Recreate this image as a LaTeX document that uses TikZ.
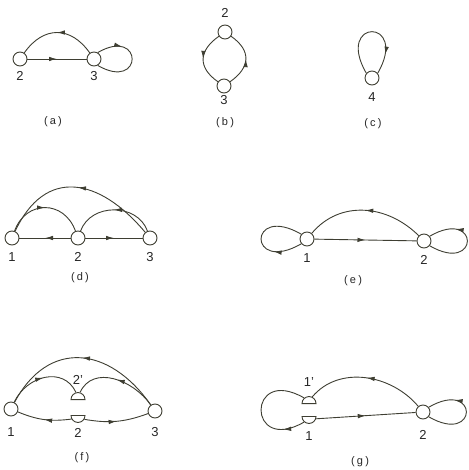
\documentclass[tikz,border=0pt]{standalone}
\usepackage{fontspec}
\setmainfont{Liberation Sans}
\newfontfamily\capfont[LetterSpace=20]{Liberation Sans}
\usetikzlibrary{positioning,shapes.geometric,decorations.markings,arrows.meta}
\definecolor{ink}{RGB}{62,62,50}
\tikzset{
  vtx/.style={draw=ink,circle,line width=0.9pt,minimum size=14pt,inner sep=0pt},
  halfup/.style={draw=ink,semicircle,line width=0.9pt,minimum width=14pt,inner sep=0pt,anchor=chord center},
  halfdn/.style={halfup,shape border rotate=180},
  num/.style={font=\fontsize{13}{13}\selectfont,inner sep=1pt,text=black!85},
  sublbl/.style={font=\capfont\fontsize{11}{11}\selectfont,text=black!85},
  flow/.style={draw=ink,line width=0.9pt,decoration={markings,mark=at position #1 with {\arrow{Latex[length=8pt,width=4.5pt]}}},postaction=decorate},
  flow/.default=0.5
}
\begin{document}
\begin{tikzpicture}[x=1pt,y=1pt]
\useasboundingbox (0,0) rectangle (468,-470);
% (a)
\node[vtx] (n2a) at (20,-59) {};
\node[vtx] (n3a) at (94,-59) {};
\node[num,below=4pt of n2a] (l2a) {2};
\node[num,below=4pt of n3a] (l3a) {3};
\draw[flow] (n2a) -- (n3a);
\draw[flow] (n3a) to[out=125,in=55,looseness=1.3] (n2a);
\draw[flow=0.3] (n3a.60) .. controls +(30:53) and +(-30:53) .. (n3a.-60);
\node[sublbl] (ca) at (53,-122) {(a)};
% (b)
\node[vtx] (n2b) at (225,-32) {};
\node[vtx] (n3b) at (224,-86) {};
\node[num,above=6pt of n2b] (l2b) {2};
\node[num,below=1pt of n3b] (l3b) {3};
\draw[flow] (n2b) to[out=215,in=145,looseness=1.4] (n3b);
\draw[flow] (n3b) to[out=35,in=-35,looseness=1.4] (n2b);
\node[sublbl] (cb) at (225,-123) {(b)};
% (c)
\node[vtx] (n4c) at (372,-78) {};
\node[num,below=6pt of n4c] (l4c) {4};
\draw[flow=0.8] (n4c.140) .. controls +(120:64) and +(60:64) .. (n4c.40);
\node[sublbl] (cc) at (373,-124) {(c)};
% (d)
\node[vtx] (n1d) at (12,-238) {};
\node[vtx] (n2d) at (78,-238) {};
\node[vtx] (n3d) at (150,-238) {};
\node[num,below=6pt of n1d] (l1d) {1};
\node[num,below=6pt of n2d] (l2d) {2};
\node[num,below=6pt of n3d] (l3d) {3};
\draw[flow] (n2d) -- (n1d);
\draw[flow] (n2d) -- (n3d);
\draw[flow] (n1d) to[out=70,in=110,looseness=1.4] (n2d);
\draw[flow] (n3d) to[out=110,in=70,looseness=1.15] (n2d);
\draw[flow] (n3d) to[out=130,in=65,looseness=1.4] (n1d);
\node[sublbl] (cd) at (80,-278) {(d)};
% (e)
\node[vtx] (n1e) at (307,-239) {};
\node[vtx] (n2e) at (424,-241) {};
\node[num,below=6pt of n1e] (l1e) {1};
\node[num,below=6pt of n2e] (l2e) {2};
\draw[flow] (n1e) -- (n2e);
\draw[flow] (n2e) to[out=135,in=50,looseness=1.05] (n1e);
\draw[flow=0.3] (n1e.-140) .. controls +(-150:62) and +(150:62) .. (n1e.140);
\draw[flow=0.7] (n2e.-40) .. controls +(-30:58) and +(30:58) .. (n2e.40);
\node[sublbl] (ce) at (353,-281) {(e)};
% (f)
\node[vtx] (n1f) at (11,-409) {};
\node[vtx] (n3f) at (155,-411) {};
\node[halfup] (n2pf) at (78,-400) {};
\node[halfdn] (n2f) at (78,-415) {};
\node[num,below=10pt of n1f] (l1f) {1};
\node[num,below=8pt of n3f] (l3f) {3};
\node[num,above=6pt of n2pf] (l2pf) {2'};
\node[num,below=4pt of n2f] (l2f) {2};
\draw[flow] (n3f) to[out=125,in=62,looseness=1.35] (n1f);
\draw[flow] (n1f) to[out=65,in=115,looseness=1.2] (n2pf);
\draw[flow] (n3f) to[out=125,in=65,looseness=1.1] (n2pf);
\draw[flow] (n2f) to[bend left=15] (n1f);
\draw[flow] (n2f) to[bend right=15] (n3f);
\node[sublbl] (cf) at (82,-458) {(f)};
% (g)
\node[vtx] (n2g) at (423,-412) {};
\node[halfup] (n1pg) at (309,-404) {};
\node[halfdn] (n1g) at (309,-416) {};
\node[num,above=8pt of n1pg] (l1pg) {1'};
\node[num,below=6pt of n1g] (l1g) {1};
\node[num,below=10pt of n2g] (l2g) {2};
\draw[flow] (n1g) -- (n2g);
\draw[flow] (n2g) to[out=130,in=50,looseness=1.0] (n1pg);
\draw[flow=0.2] (n1g) .. controls +(210:72) and +(150:72) .. (n1pg);
\draw[flow=0.7] (n2g.-40) .. controls +(-30:58) and +(30:58) .. (n2g.40);
\node[sublbl] (cg) at (360,-462) {(g)};
\end{tikzpicture}
\end{document}
